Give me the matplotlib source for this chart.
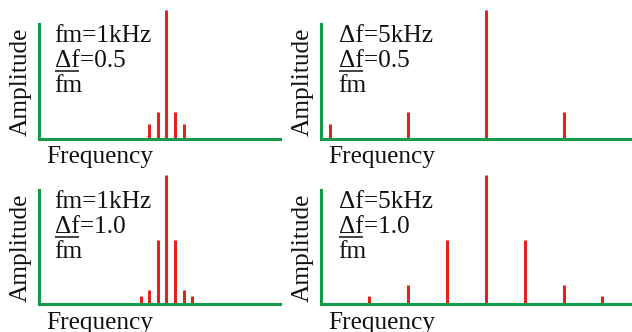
import matplotlib
matplotlib.use("Agg")
import matplotlib.pyplot as plt
from matplotlib.lines import Line2D

# Sideband offsets from the carrier (kHz) and relative spectral amplitudes
offsets_a = [-2, -1, 0, 1, 2]
amps_a = [0.11, 0.21, 1.0, 0.21, 0.11]
offsets_b = [-20, -10, 0, 10, 20]
amps_b = [0.11, 0.21, 1.0, 0.21, 0.11]
offsets_c = [-3, -2, -1, 0, 1, 2, 3]
amps_c = [0.06, 0.11, 0.5, 1.0, 0.5, 0.11, 0.06]
offsets_d = [-15, -10, -5, 0, 5, 10, 15]
amps_d = [0.06, 0.15, 0.5, 1.0, 0.5, 0.15, 0.06]

headers = ["fm=1kHz", "Δf=5kHz", "fm=1kHz", "Δf=5kHz"]
ratios = ["0.5", "0.5", "1.0", "1.0"]

W, H, DPI = 632, 332, 100
GREEN = "#14994a"
RED = "#e2231d"
FONT = dict(family="Liberation Serif", size=18.3, color="#111111")

fig = plt.figure(figsize=(W / DPI, H / DPI), dpi=DPI)
renderer = fig.canvas.get_renderer()


def fx(x):
    return x / W


def fy(y):
    return 1 - y / H


# panel geometry in pixels: left, right, baseline, top of carrier, axis top
panels = [
    dict(off=offsets_a, amp=amps_a, left=39, right=280, base=138.5, top=10.0,
         axtop=24, xlim=(-14.8, 13.2), dx=0, dy=0),
    dict(off=offsets_b, amp=amps_b, left=321, right=632, base=138.5, top=10.0,
         axtop=24, xlim=(-21.2, 18.8), dx=282, dy=0),
    dict(off=offsets_c, amp=amps_c, left=39, right=280, base=303.8, top=175.3,
         axtop=190, xlim=(-14.8, 13.2), dx=0, dy=166),
    dict(off=offsets_d, amp=amps_d, left=321, right=632, base=303.8, top=175.3,
         axtop=190, xlim=(-21.2, 18.8), dx=282, dy=166),
]

for i, p in enumerate(panels):
    ax = fig.add_axes([fx(p["left"]), fy(p["base"]),
                       (p["right"] - p["left"]) / W,
                       (p["base"] - p["top"]) / H])
    ax.set_xlim(*p["xlim"])
    ax.set_ylim(0, 1)
    ax.patch.set_alpha(0)
    ax.vlines(p["off"], 0, p["amp"], colors=RED, linewidth=2.2,
              capstyle="butt", zorder=2)
    for side in ("top", "right"):
        ax.spines[side].set_visible(False)
    for side in ("left", "bottom"):
        ax.spines[side].set_color(GREEN)
        ax.spines[side].set_linewidth(2.2)
        ax.spines[side].set_zorder(3)
    ax.spines["left"].set_bounds(0, (p["base"] - p["axtop"]) / (p["base"] - p["top"]))
    ax.set_xticks([])
    ax.set_yticks([])

    dx, dy = p["dx"], p["dy"]
    # axis titles
    fig.text(fx(27 + dx), fy(81.5 + dy), "Amplitude", rotation=90,
             rotation_mode="anchor", ha="center", va="baseline", **FONT)
    fig.text(fx(46 + dx), fy(162.5 + dy), "Frequency", ha="left",
             va="baseline", **FONT)

    # annotation: header, deviation ratio (Δf over fm)
    tx = 54.5 + dx + (2 if dx else 0)
    fig.text(fx(tx), fy(41.7 + dy), headers[i], ha="left", va="baseline", **FONT)
    fig.text(fx(tx), fy(66.7 + dy), "Δf=" + ratios[i], ha="left",
             va="baseline", **FONT)
    fig.text(fx(tx), fy(91.7 + dy), "fm", ha="left", va="baseline", **FONT)

    probe = fig.text(0, 0, "Δf", **FONT)
    wpx = probe.get_window_extent(renderer).width
    probe.remove()
    uy = fy(70.5 + dy)
    fig.add_artist(Line2D([fx(tx), fx(tx) + wpx / W], [uy, uy],
                          transform=fig.transFigure, color="#111111",
                          linewidth=1.1, solid_capstyle="butt"))

fig.savefig("out.png", dpi=DPI)
